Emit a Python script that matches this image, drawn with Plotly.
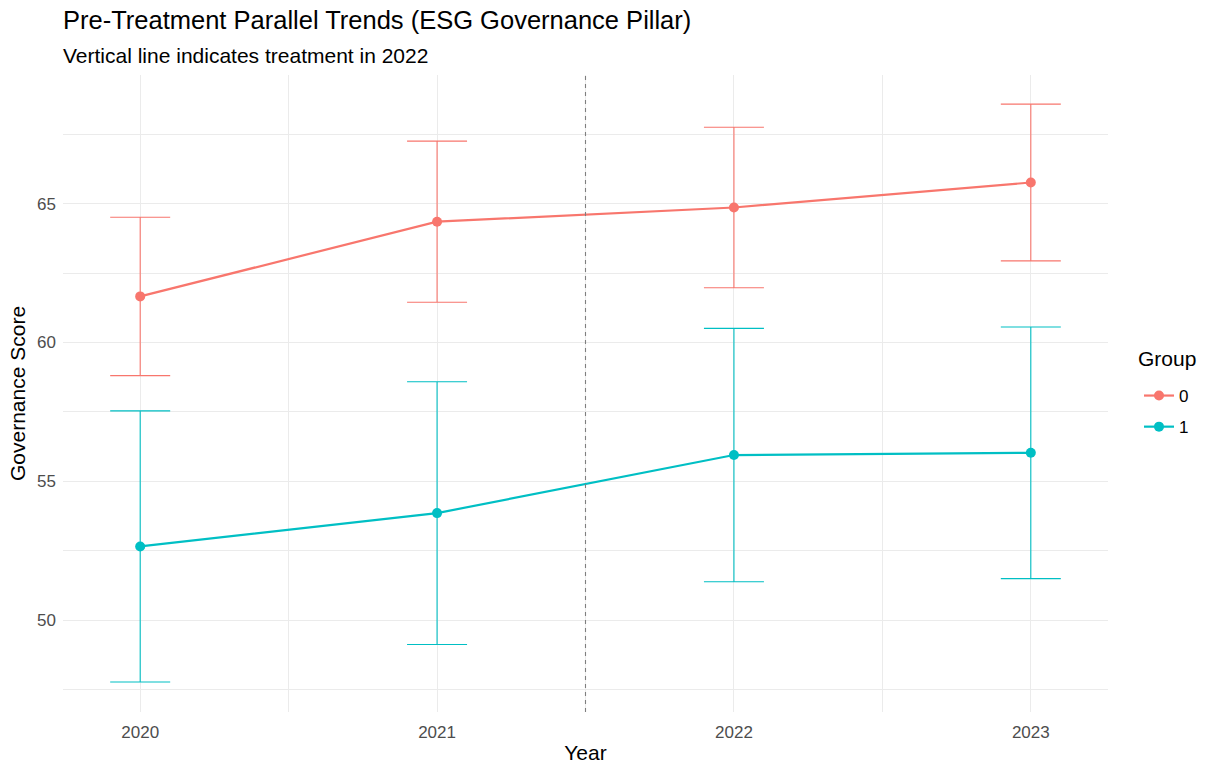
import plotly.graph_objects as go

# Mean governance scores by year, with the half-width of each interval
years = [2020, 2021, 2022, 2023]
group_labels = ["0", "1"]
group0_mean = [61.66, 64.35, 64.86, 65.76]
group0_err = [2.85, 2.90, 2.89, 2.82]
group1_mean = [52.66, 53.86, 55.95, 56.03]
group1_err = [4.88, 4.73, 4.56, 4.53]
colors = ["#F8766D", "#00BFC4"]

treatment_line = 2021.5
x_ticks = [2020, 2021, 2022, 2023]
y_ticks = [50, 55, 60, 65]

FONT = "Liberation Sans, Arial, sans-serif"
TICK_SIZE = 17
TITLE_SIZE = 21
W, H = 1207, 769
L, R, T, B = 63, 99, 75, 57
PW, PH = W - L - R, H - T - B


def px_x(px):
    return (px - L) / PW


def px_y(py):
    return (H - B - py) / PH


fig = go.Figure()
for label, mean, err, color in zip(group_labels, [group0_mean, group1_mean],
                                   [group0_err, group1_err], colors):
    fig.add_trace(go.Scatter(
        x=years, y=mean, name=label, mode="lines+markers",
        legendgroup="g" + label,
        line=dict(color=color, width=2.2),
        marker=dict(color=color, size=10),
        error_y=dict(type="data", array=err, visible=True,
                     color=color, thickness=1.1, width=30),
    ))

# Dashed vertical line marking the treatment boundary
fig.add_shape(type="line", x0=treatment_line, x1=treatment_line,
              y0=0, y1=1, xref="x", yref="paper",
              line=dict(color="#7F7F7F", width=1.1, dash="4px,4px"), layer="above")

fig.update_layout(
    width=W, height=H,
    paper_bgcolor="white", plot_bgcolor="white",
    margin=dict(l=L, r=R, t=T, b=B),
    font=dict(family=FONT, color="#000000"),
    title=dict(text="Pre-Treatment Parallel Trends (ESG Governance Pillar)",
               x=63 / W, xanchor="left", xref="container",
               y=1 - 20 / H, yanchor="middle", yref="container",
               font=dict(size=25.5, family=FONT, color="#000000")),
    annotations=[
        dict(text="Vertical line indicates treatment in 2022",
             xref="paper", yref="paper", x=px_x(61), y=px_y(55),
             xanchor="left", yanchor="middle", showarrow=False,
             font=dict(size=TITLE_SIZE, family=FONT, color="#000000")),
        dict(text="Group", xref="paper", yref="paper",
             x=px_x(1136), y=px_y(358), xanchor="left", yanchor="middle",
             showarrow=False,
             font=dict(size=TITLE_SIZE, family=FONT, color="#000000")),
    ],
    legend=dict(xref="container", yref="container",
                x=1139 / W, xanchor="left", y=1 - 378 / H, yanchor="top",
                font=dict(size=TICK_SIZE, family=FONT), itemwidth=30,
                tracegroupgap=6, bgcolor="rgba(0,0,0,0)"),
    xaxis=dict(range=[2019.74, 2023.26], tickvals=x_ticks,
               ticktext=[str(v) for v in x_ticks],
               showgrid=True, gridcolor="#EBEBEB", gridwidth=1.1,
               minor=dict(tick0=2020.5, dtick=1, showgrid=True,
                          gridcolor="#EBEBEB", gridwidth=0.6),
               zeroline=False, showline=False, ticks="",
               automargin=False, ticklabelstandoff=8,
               tickfont=dict(size=TICK_SIZE, color="#4D4D4D"),
               title=dict(text="Year", font=dict(size=TITLE_SIZE), standoff=4)),
    yaxis=dict(range=[46.70, 69.63], tickvals=y_ticks,
               showgrid=True, gridcolor="#EBEBEB", gridwidth=1.1,
               minor=dict(tick0=47.5, dtick=5, showgrid=True,
                         gridcolor="#EBEBEB", gridwidth=0.6),
               zeroline=False, showline=False, ticks="",
               automargin=False, ticklabelstandoff=6,
               tickfont=dict(size=TICK_SIZE, color="#4D4D4D"),
               title=dict(text="Governance Score", font=dict(size=TITLE_SIZE), standoff=5)),
)

fig.write_html("out.html")
